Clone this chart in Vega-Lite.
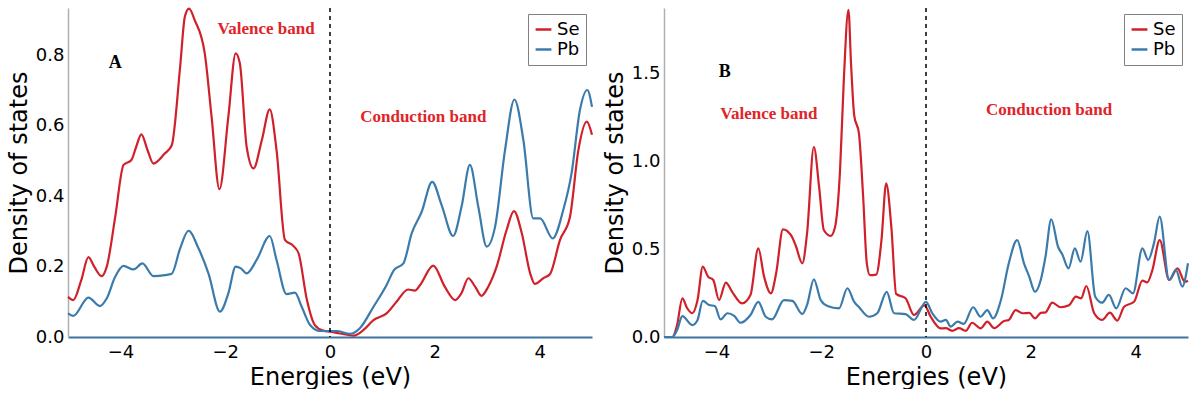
{
  "$schema": "https://vega.github.io/schema/vega-lite/v6.json",
  "background": "white",
  "padding": {"left": 7, "top": 4, "right": 0, "bottom": 0},
  "config": {
    "view": {"stroke": null},
    "font": "DejaVu Sans",
    "axis": {"grid": false, "ticks": false, "labelFont": "DejaVu Sans", "titleFont": "DejaVu Sans", "labelColor": "black", "titleColor": "black", "labelFontSize": 18, "titleFontSize": 24, "titleFontWeight": "normal", "labelPadding": 4, "titlePadding": 4},
    "axisX": {"domainColor": "#3f73a0", "domainWidth": 2, "labelPadding": 6},
    "axisY": {"domainColor": "#b0b0b0", "domainWidth": 1.5},
    "legend": {"orient": "top-right", "offset": 6, "strokeColor": "#808080", "fillColor": "white", "padding": 6, "labelFontSize": 18, "labelFont": "DejaVu Sans", "labelColor": "black", "symbolType": "stroke", "symbolStrokeWidth": 2.5, "symbolSize": 250, "rowPadding": 1, "cornerRadius": 0}
  },
  "datasets": {
    "A": [
      {"E": -5.0, "D": 0.114, "el": "Se"}, {"E": -4.9, "D": 0.105, "el": "Se"}, {"E": -4.75, "D": 0.16, "el": "Se"}, {"E": -4.61, "D": 0.227, "el": "Se"}, {"E": -4.5, "D": 0.2, "el": "Se"}, {"E": -4.36, "D": 0.173, "el": "Se"}, {"E": -4.26, "D": 0.2, "el": "Se"}, {"E": -4.1, "D": 0.34, "el": "Se"}, {"E": -3.94, "D": 0.489, "el": "Se"}, {"E": -3.79, "D": 0.503, "el": "Se"}, {"E": -3.7, "D": 0.54, "el": "Se"}, {"E": -3.6, "D": 0.576, "el": "Se"}, {"E": -3.48, "D": 0.53, "el": "Se"}, {"E": -3.37, "D": 0.493, "el": "Se"}, {"E": -3.15, "D": 0.522, "el": "Se"}, {"E": -3.02, "D": 0.545, "el": "Se"}, {"E": -2.86, "D": 0.768, "el": "Se"}, {"E": -2.77, "D": 0.91, "el": "Se"}, {"E": -2.69, "D": 0.933, "el": "Se"}, {"E": -2.58, "D": 0.9, "el": "Se"}, {"E": -2.39, "D": 0.806, "el": "Se"}, {"E": -2.26, "D": 0.626, "el": "Se"}, {"E": -2.11, "D": 0.42, "el": "Se"}, {"E": -1.94, "D": 0.626, "el": "Se"}, {"E": -1.8, "D": 0.806, "el": "Se"}, {"E": -1.72, "D": 0.777, "el": "Se"}, {"E": -1.59, "D": 0.54, "el": "Se"}, {"E": -1.46, "D": 0.479, "el": "Se"}, {"E": -1.3, "D": 0.56, "el": "Se"}, {"E": -1.15, "D": 0.647, "el": "Se"}, {"E": -1.02, "D": 0.531, "el": "Se"}, {"E": -0.86, "D": 0.276, "el": "Se"}, {"E": -0.7, "D": 0.259, "el": "Se"}, {"E": -0.6, "D": 0.238, "el": "Se"}, {"E": -0.44, "D": 0.105, "el": "Se"}, {"E": -0.29, "D": 0.034, "el": "Se"}, {"E": -0.13, "D": 0.018, "el": "Se"}, {"E": 0.0, "D": 0.015, "el": "Se"}, {"E": 0.19, "D": 0.01, "el": "Se"}, {"E": 0.45, "D": 0.004, "el": "Se"}, {"E": 0.64, "D": 0.02, "el": "Se"}, {"E": 0.83, "D": 0.048, "el": "Se"}, {"E": 1.08, "D": 0.067, "el": "Se"}, {"E": 1.27, "D": 0.1, "el": "Se"}, {"E": 1.49, "D": 0.135, "el": "Se"}, {"E": 1.62, "D": 0.132, "el": "Se"}, {"E": 1.72, "D": 0.148, "el": "Se"}, {"E": 1.97, "D": 0.203, "el": "Se"}, {"E": 2.19, "D": 0.143, "el": "Se"}, {"E": 2.39, "D": 0.105, "el": "Se"}, {"E": 2.51, "D": 0.125, "el": "Se"}, {"E": 2.64, "D": 0.167, "el": "Se"}, {"E": 2.77, "D": 0.143, "el": "Se"}, {"E": 2.89, "D": 0.117, "el": "Se"}, {"E": 3.02, "D": 0.143, "el": "Se"}, {"E": 3.18, "D": 0.2, "el": "Se"}, {"E": 3.37, "D": 0.304, "el": "Se"}, {"E": 3.51, "D": 0.358, "el": "Se"}, {"E": 3.66, "D": 0.295, "el": "Se"}, {"E": 3.82, "D": 0.181, "el": "Se"}, {"E": 3.91, "D": 0.151, "el": "Se"}, {"E": 4.07, "D": 0.167, "el": "Se"}, {"E": 4.2, "D": 0.179, "el": "Se"}, {"E": 4.39, "D": 0.276, "el": "Se"}, {"E": 4.58, "D": 0.342, "el": "Se"}, {"E": 4.74, "D": 0.531, "el": "Se"}, {"E": 4.9, "D": 0.612, "el": "Se"}, {"E": 5.0, "D": 0.575, "el": "Se"},
      {"E": -5.0, "D": 0.067, "el": "Pb"}, {"E": -4.9, "D": 0.06, "el": "Pb"}, {"E": -4.61, "D": 0.112, "el": "Pb"}, {"E": -4.39, "D": 0.088, "el": "Pb"}, {"E": -4.26, "D": 0.11, "el": "Pb"}, {"E": -4.1, "D": 0.171, "el": "Pb"}, {"E": -3.94, "D": 0.202, "el": "Pb"}, {"E": -3.75, "D": 0.192, "el": "Pb"}, {"E": -3.58, "D": 0.209, "el": "Pb"}, {"E": -3.37, "D": 0.173, "el": "Pb"}, {"E": -3.15, "D": 0.176, "el": "Pb"}, {"E": -3.02, "D": 0.18, "el": "Pb"}, {"E": -2.86, "D": 0.252, "el": "Pb"}, {"E": -2.7, "D": 0.302, "el": "Pb"}, {"E": -2.51, "D": 0.252, "el": "Pb"}, {"E": -2.32, "D": 0.181, "el": "Pb"}, {"E": -2.1, "D": 0.072, "el": "Pb"}, {"E": -1.94, "D": 0.124, "el": "Pb"}, {"E": -1.8, "D": 0.2, "el": "Pb"}, {"E": -1.7, "D": 0.195, "el": "Pb"}, {"E": -1.59, "D": 0.181, "el": "Pb"}, {"E": -1.4, "D": 0.219, "el": "Pb"}, {"E": -1.15, "D": 0.287, "el": "Pb"}, {"E": -1.02, "D": 0.219, "el": "Pb"}, {"E": -0.83, "D": 0.122, "el": "Pb"}, {"E": -0.67, "D": 0.126, "el": "Pb"}, {"E": -0.54, "D": 0.086, "el": "Pb"}, {"E": -0.38, "D": 0.034, "el": "Pb"}, {"E": -0.19, "D": 0.017, "el": "Pb"}, {"E": 0.0, "D": 0.017, "el": "Pb"}, {"E": 0.13, "D": 0.017, "el": "Pb"}, {"E": 0.38, "D": 0.009, "el": "Pb"}, {"E": 0.57, "D": 0.025, "el": "Pb"}, {"E": 0.83, "D": 0.086, "el": "Pb"}, {"E": 1.08, "D": 0.148, "el": "Pb"}, {"E": 1.22, "D": 0.19, "el": "Pb"}, {"E": 1.4, "D": 0.209, "el": "Pb"}, {"E": 1.56, "D": 0.295, "el": "Pb"}, {"E": 1.75, "D": 0.356, "el": "Pb"}, {"E": 1.95, "D": 0.441, "el": "Pb"}, {"E": 2.13, "D": 0.375, "el": "Pb"}, {"E": 2.35, "D": 0.287, "el": "Pb"}, {"E": 2.51, "D": 0.37, "el": "Pb"}, {"E": 2.67, "D": 0.489, "el": "Pb"}, {"E": 2.83, "D": 0.37, "el": "Pb"}, {"E": 2.99, "D": 0.257, "el": "Pb"}, {"E": 3.15, "D": 0.313, "el": "Pb"}, {"E": 3.34, "D": 0.531, "el": "Pb"}, {"E": 3.52, "D": 0.675, "el": "Pb"}, {"E": 3.69, "D": 0.56, "el": "Pb"}, {"E": 3.88, "D": 0.337, "el": "Pb"}, {"E": 4.01, "D": 0.337, "el": "Pb"}, {"E": 4.25, "D": 0.28, "el": "Pb"}, {"E": 4.45, "D": 0.36, "el": "Pb"}, {"E": 4.61, "D": 0.465, "el": "Pb"}, {"E": 4.77, "D": 0.645, "el": "Pb"}, {"E": 4.91, "D": 0.702, "el": "Pb"}, {"E": 5.0, "D": 0.654, "el": "Pb"}
    ],
    "B": [
      {"E": -5.0, "D": 0.0, "el": "Se"}, {"E": -4.84, "D": 0.0, "el": "Se"}, {"E": -4.75, "D": 0.068, "el": "Se"}, {"E": -4.65, "D": 0.22, "el": "Se"}, {"E": -4.56, "D": 0.165, "el": "Se"}, {"E": -4.46, "D": 0.135, "el": "Se"}, {"E": -4.36, "D": 0.21, "el": "Se"}, {"E": -4.26, "D": 0.4, "el": "Se"}, {"E": -4.16, "D": 0.343, "el": "Se"}, {"E": -4.06, "D": 0.324, "el": "Se"}, {"E": -3.95, "D": 0.21, "el": "Se"}, {"E": -3.82, "D": 0.309, "el": "Se"}, {"E": -3.7, "D": 0.257, "el": "Se"}, {"E": -3.51, "D": 0.191, "el": "Se"}, {"E": -3.35, "D": 0.239, "el": "Se"}, {"E": -3.2, "D": 0.504, "el": "Se"}, {"E": -3.09, "D": 0.343, "el": "Se"}, {"E": -2.96, "D": 0.248, "el": "Se"}, {"E": -2.86, "D": 0.362, "el": "Se"}, {"E": -2.73, "D": 0.612, "el": "Se"}, {"E": -2.58, "D": 0.58, "el": "Se"}, {"E": -2.49, "D": 0.523, "el": "Se"}, {"E": -2.36, "D": 0.419, "el": "Se"}, {"E": -2.27, "D": 0.589, "el": "Se"}, {"E": -2.14, "D": 1.08, "el": "Se"}, {"E": -2.04, "D": 0.854, "el": "Se"}, {"E": -1.95, "D": 0.608, "el": "Se"}, {"E": -1.82, "D": 0.575, "el": "Se"}, {"E": -1.74, "D": 0.62, "el": "Se"}, {"E": -1.64, "D": 0.95, "el": "Se"}, {"E": -1.57, "D": 1.45, "el": "Se"}, {"E": -1.48, "D": 1.86, "el": "Se"}, {"E": -1.43, "D": 1.55, "el": "Se"}, {"E": -1.37, "D": 1.26, "el": "Se"}, {"E": -1.28, "D": 1.157, "el": "Se"}, {"E": -1.2, "D": 0.8, "el": "Se"}, {"E": -1.13, "D": 0.42, "el": "Se"}, {"E": -1.07, "D": 0.352, "el": "Se"}, {"E": -0.95, "D": 0.355, "el": "Se"}, {"E": -0.85, "D": 0.55, "el": "Se"}, {"E": -0.76, "D": 0.873, "el": "Se"}, {"E": -0.66, "D": 0.62, "el": "Se"}, {"E": -0.57, "D": 0.245, "el": "Se"}, {"E": -0.39, "D": 0.22, "el": "Se"}, {"E": -0.23, "D": 0.125, "el": "Se"}, {"E": -0.03, "D": 0.18, "el": "Se"}, {"E": 0.09, "D": 0.115, "el": "Se"}, {"E": 0.28, "D": 0.049, "el": "Se"}, {"E": 0.38, "D": 0.05, "el": "Se"}, {"E": 0.5, "D": 0.035, "el": "Se"}, {"E": 0.63, "D": 0.05, "el": "Se"}, {"E": 0.76, "D": 0.035, "el": "Se"}, {"E": 0.88, "D": 0.081, "el": "Se"}, {"E": 1.04, "D": 0.049, "el": "Se"}, {"E": 1.17, "D": 0.087, "el": "Se"}, {"E": 1.3, "D": 0.05, "el": "Se"}, {"E": 1.49, "D": 0.091, "el": "Se"}, {"E": 1.58, "D": 0.097, "el": "Se"}, {"E": 1.71, "D": 0.153, "el": "Se"}, {"E": 1.84, "D": 0.135, "el": "Se"}, {"E": 1.97, "D": 0.137, "el": "Se"}, {"E": 2.08, "D": 0.106, "el": "Se"}, {"E": 2.19, "D": 0.137, "el": "Se"}, {"E": 2.28, "D": 0.14, "el": "Se"}, {"E": 2.41, "D": 0.195, "el": "Se"}, {"E": 2.57, "D": 0.169, "el": "Se"}, {"E": 2.73, "D": 0.18, "el": "Se"}, {"E": 2.86, "D": 0.229, "el": "Se"}, {"E": 2.96, "D": 0.22, "el": "Se"}, {"E": 3.06, "D": 0.29, "el": "Se"}, {"E": 3.21, "D": 0.135, "el": "Se"}, {"E": 3.36, "D": 0.097, "el": "Se"}, {"E": 3.51, "D": 0.138, "el": "Se"}, {"E": 3.65, "D": 0.093, "el": "Se"}, {"E": 3.78, "D": 0.172, "el": "Se"}, {"E": 3.97, "D": 0.2, "el": "Se"}, {"E": 4.13, "D": 0.32, "el": "Se"}, {"E": 4.22, "D": 0.31, "el": "Se"}, {"E": 4.32, "D": 0.38, "el": "Se"}, {"E": 4.46, "D": 0.551, "el": "Se"}, {"E": 4.64, "D": 0.324, "el": "Se"}, {"E": 4.8, "D": 0.39, "el": "Se"}, {"E": 4.94, "D": 0.314, "el": "Se"}, {"E": 5.0, "D": 0.32, "el": "Se"},
      {"E": -5.0, "D": 0.0, "el": "Pb"}, {"E": -4.84, "D": 0.0, "el": "Pb"}, {"E": -4.75, "D": 0.04, "el": "Pb"}, {"E": -4.65, "D": 0.119, "el": "Pb"}, {"E": -4.46, "D": 0.068, "el": "Pb"}, {"E": -4.36, "D": 0.097, "el": "Pb"}, {"E": -4.26, "D": 0.205, "el": "Pb"}, {"E": -4.14, "D": 0.182, "el": "Pb"}, {"E": -4.03, "D": 0.176, "el": "Pb"}, {"E": -3.92, "D": 0.1, "el": "Pb"}, {"E": -3.79, "D": 0.135, "el": "Pb"}, {"E": -3.66, "D": 0.12, "el": "Pb"}, {"E": -3.54, "D": 0.081, "el": "Pb"}, {"E": -3.35, "D": 0.125, "el": "Pb"}, {"E": -3.2, "D": 0.2, "el": "Pb"}, {"E": -3.06, "D": 0.115, "el": "Pb"}, {"E": -2.94, "D": 0.1, "el": "Pb"}, {"E": -2.71, "D": 0.21, "el": "Pb"}, {"E": -2.55, "D": 0.205, "el": "Pb"}, {"E": -2.36, "D": 0.131, "el": "Pb"}, {"E": -2.27, "D": 0.182, "el": "Pb"}, {"E": -2.14, "D": 0.328, "el": "Pb"}, {"E": -2.01, "D": 0.21, "el": "Pb"}, {"E": -1.88, "D": 0.176, "el": "Pb"}, {"E": -1.66, "D": 0.163, "el": "Pb"}, {"E": -1.5, "D": 0.277, "el": "Pb"}, {"E": -1.37, "D": 0.2, "el": "Pb"}, {"E": -1.28, "D": 0.17, "el": "Pb"}, {"E": -1.09, "D": 0.115, "el": "Pb"}, {"E": -0.93, "D": 0.135, "el": "Pb"}, {"E": -0.75, "D": 0.257, "el": "Pb"}, {"E": -0.61, "D": 0.135, "el": "Pb"}, {"E": -0.39, "D": 0.13, "el": "Pb"}, {"E": -0.23, "D": 0.097, "el": "Pb"}, {"E": 0.0, "D": 0.2, "el": "Pb"}, {"E": 0.12, "D": 0.135, "el": "Pb"}, {"E": 0.28, "D": 0.087, "el": "Pb"}, {"E": 0.38, "D": 0.097, "el": "Pb"}, {"E": 0.47, "D": 0.059, "el": "Pb"}, {"E": 0.6, "D": 0.087, "el": "Pb"}, {"E": 0.72, "D": 0.075, "el": "Pb"}, {"E": 0.9, "D": 0.169, "el": "Pb"}, {"E": 1.04, "D": 0.115, "el": "Pb"}, {"E": 1.17, "D": 0.153, "el": "Pb"}, {"E": 1.28, "D": 0.106, "el": "Pb"}, {"E": 1.43, "D": 0.21, "el": "Pb"}, {"E": 1.58, "D": 0.419, "el": "Pb"}, {"E": 1.74, "D": 0.551, "el": "Pb"}, {"E": 1.87, "D": 0.419, "el": "Pb"}, {"E": 1.97, "D": 0.343, "el": "Pb"}, {"E": 2.08, "D": 0.257, "el": "Pb"}, {"E": 2.19, "D": 0.324, "el": "Pb"}, {"E": 2.28, "D": 0.456, "el": "Pb"}, {"E": 2.39, "D": 0.669, "el": "Pb"}, {"E": 2.52, "D": 0.513, "el": "Pb"}, {"E": 2.6, "D": 0.47, "el": "Pb"}, {"E": 2.72, "D": 0.39, "el": "Pb"}, {"E": 2.84, "D": 0.504, "el": "Pb"}, {"E": 2.95, "D": 0.428, "el": "Pb"}, {"E": 3.08, "D": 0.602, "el": "Pb"}, {"E": 3.23, "D": 0.229, "el": "Pb"}, {"E": 3.36, "D": 0.195, "el": "Pb"}, {"E": 3.49, "D": 0.239, "el": "Pb"}, {"E": 3.63, "D": 0.163, "el": "Pb"}, {"E": 3.81, "D": 0.277, "el": "Pb"}, {"E": 3.95, "D": 0.248, "el": "Pb"}, {"E": 4.13, "D": 0.504, "el": "Pb"}, {"E": 4.24, "D": 0.438, "el": "Pb"}, {"E": 4.35, "D": 0.532, "el": "Pb"}, {"E": 4.46, "D": 0.684, "el": "Pb"}, {"E": 4.64, "D": 0.324, "el": "Pb"}, {"E": 4.77, "D": 0.381, "el": "Pb"}, {"E": 4.89, "D": 0.286, "el": "Pb"}, {"E": 5.0, "D": 0.419, "el": "Pb"}
    ],
    "labA": [
      {"E": -1.22, "D": 0.875, "t": "Valence band"},
      {"E": 1.78, "D": 0.625, "t": "Conduction band"}
    ],
    "tagA": [{"E": -4.1, "D": 0.778, "t": "A"}],
    "labB": [
      {"E": -3.0, "D": 1.267, "t": "Valence band"},
      {"E": 2.35, "D": 1.29, "t": "Conduction band"}
    ],
    "tagB": [{"E": -3.84, "D": 1.506, "t": "B"}],
    "zero": [{"E": 0}]
  },
  "resolve": {"legend": {"color": "independent"}},
  "spacing": 6,
  "hconcat": [
    {
      "width": 524,
      "height": 329,
      "layer": [
        {
          "data": {"name": "A"},
          "mark": {"type": "line", "interpolate": "monotone", "strokeWidth": 2.2},
          "encoding": {
            "x": {"field": "E", "type": "quantitative", "scale": {"domain": [-5, 5], "nice": false, "zero": false}, "axis": {"values": [-4, -2, 0, 2, 4], "format": "d", "title": "Energies (eV)"}},
            "y": {"field": "D", "type": "quantitative", "scale": {"domain": [0, 0.935], "nice": false}, "axis": {"values": [0, 0.2, 0.4, 0.6, 0.8], "format": ".1f", "title": "Density of states"}},
            "color": {"field": "el", "type": "nominal", "scale": {"domain": ["Se", "Pb"], "range": ["#d0202a", "#3b7bab"]}, "legend": {"title": null}},
            "detail": {"field": "el"}
          }
        },
        {
          "data": {"name": "zero"},
          "mark": {"type": "rule", "color": "black", "strokeDash": [4, 4], "strokeWidth": 1.5},
          "encoding": {"x": {"field": "E", "type": "quantitative"}}
        },
        {
          "data": {"name": "labA"},
          "mark": {"type": "text", "font": "Liberation Serif", "fontWeight": "bold", "fontSize": 17, "fill": "#e0242a", "align": "center", "baseline": "middle"},
          "encoding": {"x": {"field": "E", "type": "quantitative"}, "y": {"field": "D", "type": "quantitative"}, "text": {"field": "t"}}
        },
        {
          "data": {"name": "tagA"},
          "mark": {"type": "text", "font": "Liberation Serif", "fontWeight": "bold", "fontSize": 18, "fill": "black", "align": "center", "baseline": "middle"},
          "encoding": {"x": {"field": "E", "type": "quantitative"}, "y": {"field": "D", "type": "quantitative"}, "text": {"field": "t"}}
        }
      ]
    },
    {
      "width": 524,
      "height": 329,
      "layer": [
        {
          "data": {"name": "B"},
          "mark": {"type": "line", "interpolate": "monotone", "strokeWidth": 2.2},
          "encoding": {
            "x": {"field": "E", "type": "quantitative", "scale": {"domain": [-5, 5], "nice": false, "zero": false}, "axis": {"values": [-4, -2, 0, 2, 4], "format": "d", "title": "Energies (eV)"}},
            "y": {"field": "D", "type": "quantitative", "scale": {"domain": [0, 1.87], "nice": false}, "axis": {"values": [0, 0.5, 1.0, 1.5], "format": ".1f", "title": "Density of states"}},
            "color": {"field": "el", "type": "nominal", "scale": {"domain": ["Se", "Pb"], "range": ["#d0202a", "#3b7bab"]}, "legend": {"title": null}},
            "detail": {"field": "el"}
          }
        },
        {
          "data": {"name": "zero"},
          "mark": {"type": "rule", "color": "black", "strokeDash": [4, 4], "strokeWidth": 1.5},
          "encoding": {"x": {"field": "E", "type": "quantitative"}}
        },
        {
          "data": {"name": "labB"},
          "mark": {"type": "text", "font": "Liberation Serif", "fontWeight": "bold", "fontSize": 17, "fill": "#e0242a", "align": "center", "baseline": "middle"},
          "encoding": {"x": {"field": "E", "type": "quantitative"}, "y": {"field": "D", "type": "quantitative"}, "text": {"field": "t"}}
        },
        {
          "data": {"name": "tagB"},
          "mark": {"type": "text", "font": "Liberation Serif", "fontWeight": "bold", "fontSize": 18, "fill": "black", "align": "center", "baseline": "middle"},
          "encoding": {"x": {"field": "E", "type": "quantitative"}, "y": {"field": "D", "type": "quantitative"}, "text": {"field": "t"}}
        }
      ]
    }
  ]
}
